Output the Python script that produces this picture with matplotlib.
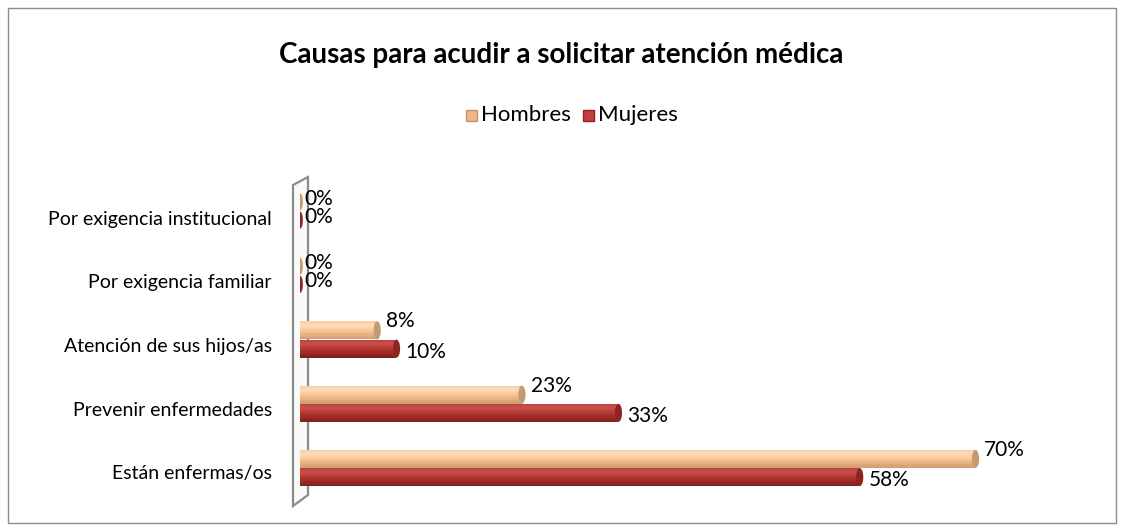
import matplotlib.pyplot as plt
import numpy as np
from matplotlib.colors import to_rgb
from matplotlib.patches import Ellipse, Polygon, Rectangle

# data
categorias = ["Están enfermas/os", "Prevenir enfermedades", "Atención de sus hijos/as",
              "Por exigencia familiar", "Por exigencia institucional"]
hombres = [70, 23, 8, 0, 0]
mujeres = [58, 33, 10, 0, 0]
series = ["Hombres", "Mujeres"]

plt.rcParams['font.family'] = ['Lato', 'DejaVu Sans']

W, H = 1124, 531
fig = plt.figure(figsize=(W / 100, H / 100), dpi=100)
fig.patch.set_facecolor("white")

def px(x, y):
    return (x / W, 1 - y / H)

# outer border
fig.patches.append(Rectangle(px(8, 523), 1108 / W, 515 / H, transform=fig.transFigure,
                             fill=False, edgecolor="#8c8c8c", linewidth=1))

# 3d wall at the axis
wall = [px(293, 185), px(308, 177), px(308, 495), px(293, 506)]
fig.patches.append(Polygon(wall, closed=True, transform=fig.transFigure,
                           facecolor="#f9f9f9", edgecolor="#8c8c8c", linewidth=1.6))

unit = 64.25
top_px = 211 - 0.6 * unit
bot_px = 468 + 0.6 * unit
ax = fig.add_axes([300 / W, (H - bot_px) / H, (1072 - 300) / W, (bot_px - top_px) / H])
ax.set_zorder(3)
ax.patch.set_alpha(0)
ax.set_xlim(0, 80)
ax.set_ylim(-0.6, 4.6)
ax.axis("off")

h = 0.28
off = 0.142
cw = 0.75  # cap width in data units
estilos = {
    "Hombres": dict(body="#f6c18f", light="#fddcb9", dark="#cf9b6c", cap="#c59a70"),
    "Mujeres": dict(body="#b0342f", light="#c9504b", dark="#7e1c1a", cap="#8e2522"),
}

def mezcla(c1, c2, t):
    a, b = np.array(to_rgb(c1)), np.array(to_rgb(c2))
    return tuple(a + (b - a) * t)

def sombra(st, t):
    # t = 0 bottom of the cylinder, 1 top
    if t < 0.45:
        return mezcla(st["dark"], st["body"], t / 0.45)
    if t < 0.78:
        return mezcla(st["body"], st["light"], (t - 0.45) / 0.33)
    return mezcla(st["light"], st["body"], (t - 0.78) / 0.22 * 0.6)

n = 14
for s, vals, dy in [("Hombres", hombres, off), ("Mujeres", mujeres, -off)]:
    st = estilos[s]
    for i, v in enumerate(vals):
        y = i + dy
        if v > 0:
            for k in range(n):
                t = (k + 0.5) / n
                ax.barh(y - h / 2 + h * k / n + h / n / 2, v, height=h / n * 1.05,
                        color=sombra(st, t), edgecolor="none", zorder=2)
            ax.add_patch(Ellipse((0, y), cw, h, facecolor=st["body"], edgecolor="none", zorder=1))
            ax.add_patch(Ellipse((v, y), cw, h, facecolor=st["cap"], edgecolor="none", zorder=4))
        else:
            ax.add_patch(Ellipse((0, y), cw * 0.8, h * 0.95, facecolor=st["cap"], edgecolor="none", zorder=4))
        if v > 0:
            ly = y + (0.14 if s == "Hombres" else -0.05)
            lx = v + 0.9
        else:
            ly = y + 0.05
            lx = 0.5
        ax.text(lx, ly, f"{v}%", fontsize=15, va="center", ha="left", color="black", zorder=5)

for i, c in enumerate(categorias):
    fig.text(272 / W, 1 - (474 - i * 63.75) / H, c, fontsize=14, ha="right", va="center")

fig.text(561 / W, 1 - 55 / H, "Causas para acudir a solicitar atención médica",
         fontsize=20, fontweight="bold", ha="center", va="center")

# legend
legend_items = [(466, "Hombres", "#eab88a", "#c7936a"), (583, "Mujeres", "#c2403c", "#8e2522")]
for x0, lab, fc, ec in legend_items:
    fig.patches.append(Rectangle(px(x0, 121), 11 / W, 11 / H, transform=fig.transFigure,
                                 facecolor=fc, edgecolor=ec, linewidth=1))
    fig.text((x0 + 15) / W, 1 - 115 / H, lab, fontsize=16, ha="left", va="center")

fig.savefig("out.png", dpi=100)
